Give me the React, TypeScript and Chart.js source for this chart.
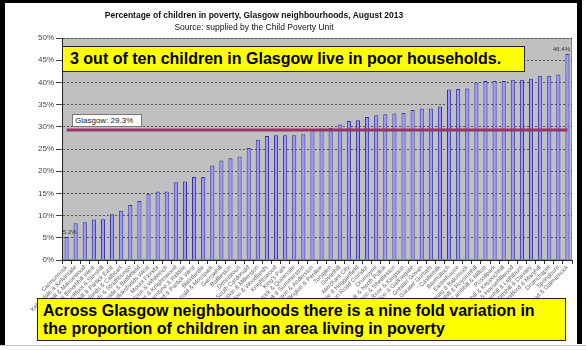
import React, { useEffect, useRef } from "react";
import { Chart, registerables } from "chart.js";

Chart.register(...registerables);

const FONT = '"Liberation Sans", Arial, sans-serif';

const chartTitle = "Percentage of children in poverty, Glasgow neighbourhoods, August 2013";
const chartSubtitle = "Source: supplied by the Child Poverty Unit";
const headline = "3 out of ten children in Glasgow live in poor households.";
const footnoteLines = [
  "Across Glasgow neighbourhoods there is a nine fold variation in",
  "the proportion of children in an area living in poverty",
];

const neighbourhoods = [
  "Carmunnock",
  "Kelvindale & Kelvinside",
  "Jordanhill & Mansewood",
  "Hyndland & Broomhill West",
  "Croftfoot & Simshill",
  "Dowanhill & Partick East",
  "Newlands & Cathcart",
  "Shawlands & Strathbungo",
  "Langside & Battlefield",
  "Pollokshields West",
  "Mount Florida",
  "Scotstoun & Whiteinch",
  "Yoker & Knightswood",
  "Carntyne & Riddrie",
  "Thornwood & Partick West",
  "Blairdardie",
  "Cardonald & Mosspark",
  "Garrowhill",
  "Baillieston",
  "Dennistoun",
  "South Cardonald",
  "Robroyston & Millerston",
  "Anderston & Woodlands",
  "Knightswood",
  "King's Park",
  "Garthamlock & Queenslie",
  "Maryhill & Summerston",
  "Finnieston & Anderston",
  "Hillington & Penilee",
  "Toryglen",
  "Govanhill",
  "Merchant City",
  "Riddrie & Hogganfield",
  "Dumbarton Road Corridor",
  "Drumoyne",
  "Pollok & North Pollok",
  "Tollcross & Shettleston",
  "Ibrox & Kingston",
  "Calton & Gallowgate",
  "Greater Govan",
  "Greater Gorbals",
  "Castlemilk",
  "Barmulloch",
  "Easterhouse",
  "Gartcraig & Balornock",
  "Sighthill & Roystonhill",
  "Lambhill & Milton",
  "Possilpark",
  "Ruchill & Keppochhill",
  "Priesthill & Househillwood",
  "Cranhill & Lightburn",
  "Nitshill & Darnley",
  "Wyndford & Maryhill",
  "Drumchapel",
  "Springburn",
  "Parkhead & Dalmarnock",
];

const povertyPct = [
  5.2, 8.3, 8.5, 9.1, 9.2, 10.3, 11.1, 12.4, 13.3, 14.9,
  15.4, 15.4, 17.5, 17.7, 18.7, 18.7, 21.3, 22.4, 22.9, 23.3,
  25.2, 27.1, 27.9, 28.1, 28.1, 28.1, 28.3, 29.4, 29.6, 29.8,
  30.5, 31.3, 31.5, 32.2, 32.6, 32.8, 33.0, 33.1, 33.8, 34.1,
  34.1, 34.6, 38.4, 38.5, 38.6, 40.0, 40.3, 40.3, 40.3, 40.6,
  40.6, 40.8, 41.5, 41.5, 41.8, 46.4,
];

const glasgowAverage = 29.3;
const glasgowLabel = "Glasgow: 29.3%";

const yMin = 0;
const yMax = 50;
const yStep = 5;

const plotBackground = {
  id: "plotBackground",
  beforeDraw(chart: any) {
    const { ctx, chartArea: a } = chart;
    ctx.save();
    ctx.fillStyle = "#c0c0c0";
    ctx.fillRect(a.left, a.top, a.right - a.left, a.bottom - a.top);
    ctx.strokeStyle = "#8a8a8a";
    ctx.lineWidth = 1;
    ctx.strokeRect(a.left + 0.5, a.top + 0.5, a.right - a.left - 1, a.bottom - a.top - 1);
    ctx.restore();
  },
};

const averageLine = {
  id: "averageLine",
  afterDatasetsDraw(chart: any) {
    const { ctx } = chart;
    const xs = chart.scales.x;
    const ys = chart.scales.y;
    const py = ys.getPixelForValue(glasgowAverage);
    ctx.save();
    ctx.strokeStyle = "#993366";
    ctx.lineWidth = 3;
    ctx.beginPath();
    ctx.moveTo(xs.getPixelForValue(0), py);
    ctx.lineTo(xs.getPixelForValue(neighbourhoods.length - 1), py);
    ctx.stroke();
    ctx.restore();
  },
};

const endLabels = {
  id: "endLabels",
  afterDatasetsDraw(chart: any) {
    const { ctx, chartArea: a } = chart;
    const meta = chart.getDatasetMeta(0);
    const idxs = [0, povertyPct.length - 1];
    ctx.save();
    ctx.font = `6px ${FONT}`;
    ctx.fillStyle = "#333";
    ctx.textBaseline = "bottom";
    ctx.textAlign = "center";
    idxs.forEach((i) => {
      const el = meta.data[i];
      const txt = `${povertyPct[i].toFixed(1)}%`;
      const w = ctx.measureText(txt).width;
      let x = el.x;
      x = Math.max(a.left + w / 2 + 1, Math.min(a.right - w / 2 - 2, x));
      ctx.fillText(txt, x, el.y - 2);
    });
    ctx.restore();
  },
};

export default function App() {
  const ref = useRef<HTMLCanvasElement | null>(null);

  useEffect(() => {
    if (!ref.current) return;
    Chart.defaults.font.family = FONT;
    const chart = new Chart(ref.current, {
      type: "bar",
      data: {
        labels: neighbourhoods,
        datasets: [
          {
            data: povertyPct,
            backgroundColor: "#9999ff",
            borderColor: "#333399",
            borderWidth: 1,
            barPercentage: 0.45,
            categoryPercentage: 1,
          },
        ],
      },
      options: {
        responsive: false,
        animation: false,
        devicePixelRatio: 1,
        layout: { padding: { left: 6, top: 38, right: 14, bottom: 0 } },
        plugins: {
          legend: { display: false },
          tooltip: { enabled: false },
          title: { display: false },
        },
        scales: {
          x: {
            grid: {
              display: true,
              drawOnChartArea: false,
              drawTicks: true,
              tickLength: 4,
              color: "#333",
              offset: true,
            },
            border: { display: true, color: "#222", width: 1 },
            ticks: {
              autoSkip: false,
              maxRotation: 45,
              minRotation: 45,
              padding: 0,
              color: "#666",
              font: { size: 6, family: FONT },
            },
            afterFit: (s: any) => {
              s.height = 90;
            },
          },
          y: {
            min: yMin,
            max: yMax,
            ticks: {
              stepSize: yStep,
              padding: 2,
              color: "#444",
              font: { size: 8, family: FONT },
              callback: (v: any) => `${v}%`,
            },
            grid: {
              color: "#555",
              lineWidth: 1,
              drawTicks: true,
              tickLength: 6,
              tickColor: "#444",
            },
            border: { display: true, color: "#222", width: 1, dash: [2, 2] },
            afterFit: (s: any) => {
              s.width = 56;
            },
          },
        },
      },
      plugins: [plotBackground, averageLine, endLabels],
    });
    return () => chart.destroy();
  }, []);

  return (
    <div
      style={{
        position: "fixed",
        left: 0,
        top: 0,
        width: 586,
        height: 350,
        background: "#fff",
        overflow: "hidden",
        fontFamily: FONT,
      }}
    >
      <canvas
        ref={ref}
        width={586}
        height={350}
        style={{ position: "absolute", left: 0, top: 0, width: 586, height: 350 }}
      />
      {/* slide frame */}
      <div style={{ position: "absolute", left: 0, top: 0, width: 5, height: 345, background: "#000" }} />
      <div style={{ position: "absolute", left: 0, top: 0, width: 582, height: 3, background: "#000" }} />
      <div style={{ position: "absolute", left: 577, top: 0, width: 5, height: 344, background: "#000" }} />
      <div style={{ position: "absolute", left: 0, top: 345, width: 586, height: 1, background: "#c8c8c8" }} />
      {/* titles */}
      <div
        style={{
          position: "absolute",
          left: 54,
          width: 400,
          top: 10,
          textAlign: "center",
          fontSize: 8.5,
          fontWeight: "bold",
          color: "#111",
          lineHeight: "10px",
        }}
      >
        {chartTitle}
      </div>
      <div
        style={{
          position: "absolute",
          left: 54,
          width: 400,
          top: 22,
          textAlign: "center",
          fontSize: 8.5,
          color: "#111",
          lineHeight: "10px",
        }}
      >
        {chartSubtitle}
      </div>
      {/* Glasgow label */}
      <div
        style={{
          position: "absolute",
          left: 72,
          top: 114,
          width: 70,
          height: 13,
          boxSizing: "border-box",
          background: "#fff",
          border: "1px solid #777",
          fontSize: 8,
          lineHeight: "11px",
          paddingLeft: 2,
          color: "#222",
          whiteSpace: "nowrap",
        }}
      >
        {glasgowLabel}
      </div>
      {/* headline box */}
      <div
        style={{
          position: "absolute",
          left: 62,
          top: 46,
          width: 463,
          height: 26,
          boxSizing: "border-box",
          background: "#ffff00",
          border: "1.5px solid #222",
          fontSize: 16,
          fontWeight: "bold",
          lineHeight: "23px",
          paddingLeft: 7,
          color: "#000",
          whiteSpace: "nowrap",
        }}
      >
        {headline}
      </div>
      {/* footnote box */}
      <div
        style={{
          position: "absolute",
          left: 37,
          top: 298,
          width: 529,
          height: 43,
          boxSizing: "border-box",
          background: "#ffff00",
          border: "1.5px solid #222",
          fontSize: 16,
          fontWeight: "bold",
          lineHeight: "18px",
          padding: "3px 0 0 5px",
          color: "#000",
          whiteSpace: "nowrap",
        }}
      >
        {footnoteLines.map((l, i) => (
          <div key={i}>{l}</div>
        ))}
      </div>
    </div>
  );
}
